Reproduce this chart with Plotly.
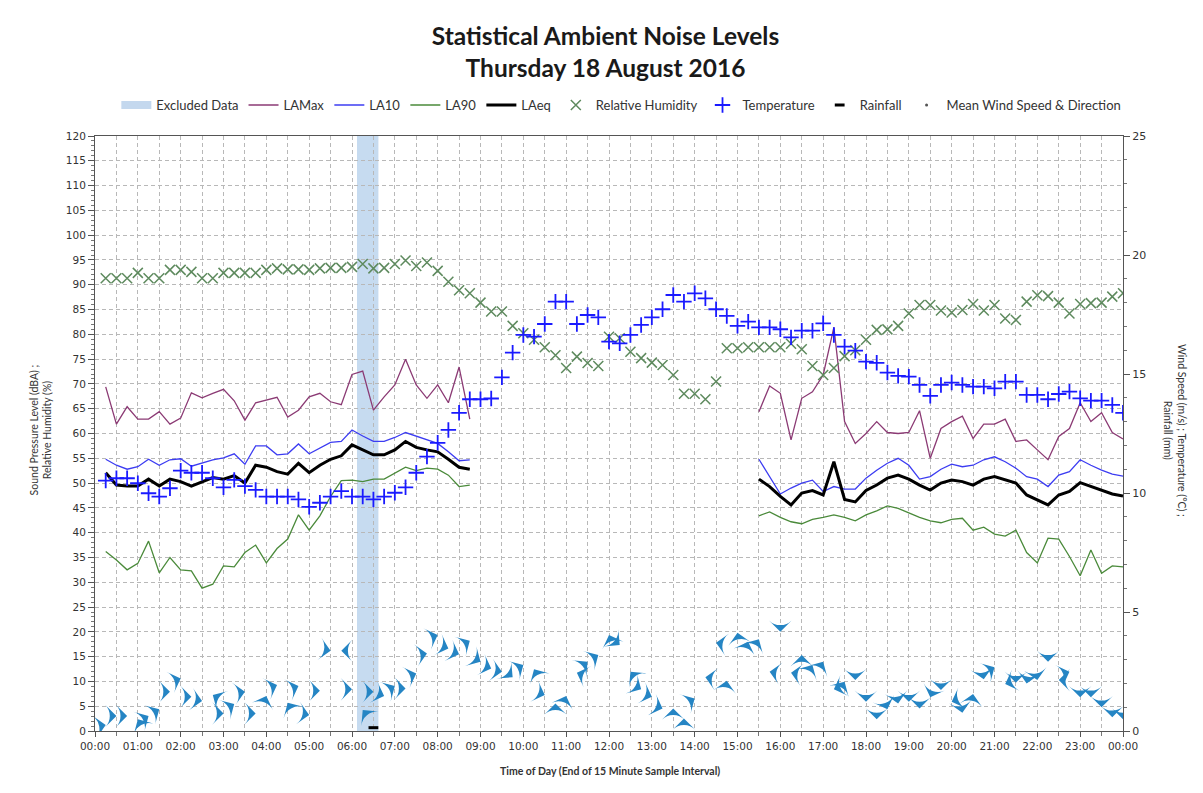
import plotly.graph_objects as go
from datetime import datetime, timedelta

# ---------------- data ----------------
start = datetime(2016, 8, 18, 0, 0)
times = [start + timedelta(minutes=15 * (i + 1)) for i in range(96)]  # end of 15-min intervals

GAP = [None] * 26

la_max = [69.4, 61.9, 65.4, 62.9, 62.9, 64.4, 61.9, 63.1, 68.2, 67.2, 68.1, 68.9, 66.6, 62.7, 66.2, 66.8,
          67.3, 63.3, 64.7, 67.4, 68.1, 66.4, 65.8, 71.9, 72.6, 64.7, 67.4, 69.8, 75.0, 69.8, 67.1, 69.8,
          66.2, 73.4, 62.9] + GAP + \
         [64.4, 69.6, 68.1, 58.7, 67.1, 68.4, 71.8, 81.4, 62.4, 58.0, 60.0, 62.4, 60.2, 60.0, 60.2, 64.6,
          55.0, 61.0, 62.4, 63.5, 59.0, 61.9, 61.9, 62.9, 58.4, 58.7, 56.7, 54.7, 59.4, 61.0, 66.2, 62.4,
          64.2, 60.2, 58.9]

la10 = [54.8, 53.6, 52.8, 53.3, 54.8, 53.6, 54.7, 54.9, 53.4, 54.1, 54.7, 55.1, 55.9, 53.8, 57.5, 57.5,
        55.7, 55.9, 57.9, 55.9, 57.0, 58.2, 58.4, 60.7, 59.5, 58.4, 58.4, 59.2, 60.2, 59.5, 58.7, 58.0,
        56.3, 54.5, 54.7] + GAP + \
       [54.8, 51.3, 47.8, 49.0, 50.0, 50.6, 48.3, 49.3, 48.8, 48.8, 51.0, 52.6, 54.0, 55.0, 53.6, 50.8,
        51.3, 52.8, 53.8, 53.3, 53.6, 54.7, 55.3, 54.3, 53.0, 51.3, 50.8, 49.3, 51.6, 52.3, 54.7, 53.6,
        52.6, 51.8, 51.4]

la90 = [36.2, 34.5, 32.5, 33.8, 38.3, 31.9, 35.0, 32.5, 32.3, 28.8, 29.6, 33.3, 33.1, 36.0, 37.5, 33.9,
        36.8, 38.7, 43.6, 40.5, 43.4, 47.3, 50.5, 50.6, 50.3, 50.8, 50.8, 52.0, 53.2, 52.5, 53.0, 52.8,
        51.6, 49.3, 49.6] + GAP + \
       [43.4, 44.2, 43.1, 42.2, 41.8, 42.7, 43.1, 43.6, 43.1, 42.4, 43.6, 44.4, 45.4, 44.9, 44.0, 43.1,
        42.4, 42.0, 42.7, 42.9, 40.5, 41.1, 39.7, 39.3, 40.5, 36.0, 33.9, 38.9, 38.7, 35.2, 31.3, 36.5,
        31.8, 33.3, 33.1]

laeq = [52.1, 49.6, 49.4, 49.4, 50.8, 49.4, 50.8, 50.3, 49.4, 50.3, 51.1, 50.8, 51.5, 50.0, 53.6, 53.2,
        52.3, 51.8, 54.0, 52.1, 53.6, 54.8, 55.5, 57.7, 56.7, 55.7, 55.7, 56.7, 58.4, 57.2, 56.7, 56.3,
        54.8, 53.2, 52.8] + GAP + \
       [50.8, 49.3, 47.3, 45.6, 48.0, 48.5, 47.6, 54.3, 46.7, 46.2, 48.5, 49.6, 51.0, 51.6, 50.8, 49.6,
        48.6, 50.0, 50.6, 50.3, 49.6, 50.8, 51.3, 50.6, 50.0, 47.6, 46.6, 45.6, 47.6, 48.3, 50.1, 49.3,
        48.5, 47.8, 47.4]

rel_humidity = [91.3, 91.3, 91.3, 92.4, 91.3, 91.3, 93.0, 93.0, 92.6, 91.3, 91.3, 92.4, 92.4, 92.4, 92.4, 93.0,
                93.3, 93.1, 93.1, 93.0, 93.3, 93.4, 93.4, 93.6, 94.2, 93.3, 93.4, 94.2, 94.9, 93.8, 94.5, 92.8,
                90.6, 88.9, 88.3, 86.4,
                84.6, 84.6, 81.7, 80.2, 78.9, 77.4, 75.8, 73.2, 75.5, 74.2, 73.6, 79.5, 79.2, 76.5, 75.2, 74.3,
                73.8, 71.8, 68.0, 68.0, 66.9, 70.5,
                77.2, 77.2, 77.4, 77.4, 77.4, 77.4, 78.1, 77.0, 73.6, 71.8, 73.2, 75.6, 76.8, 78.9, 80.9, 81.0,
                81.7, 84.2, 85.9, 85.9, 84.8, 84.4, 84.9, 86.1, 84.8, 85.9, 83.2, 82.9, 86.6, 87.9, 87.7, 86.4,
                84.2, 86.1, 86.3, 86.4, 87.6, 88.3]

temperature = [10.52, 10.62, 10.62, 10.41, 9.99, 9.85, 10.20, 10.94, 10.85, 10.85, 10.62, 10.24, 10.55, 10.29,
               10.13, 9.85, 9.85, 9.85, 9.73, 9.42, 9.59, 9.85, 10.08, 9.85, 9.85, 9.73, 9.85, 10.01, 10.24,
               10.85, 11.53, 12.11, 12.65,
               13.37, 13.94, 13.94, 13.97, 14.86, 15.90, 16.64, 16.57, 17.10, 18.04, 18.04, 17.10, 17.48, 17.38,
               16.36, 16.29, 16.64, 17.06, 17.38, 17.72, 18.32, 18.04, 18.39, 18.18, 17.72, 17.44, 17.02,
               17.20, 16.96, 16.96, 16.88, 16.54, 16.82, 16.82, 17.13, 16.64, 16.15, 15.98, 15.52, 15.47, 15.06,
               14.92, 14.89, 14.54, 14.08, 14.54, 14.64, 14.54, 14.47, 14.47, 14.40, 14.68, 14.68, 14.12, 14.12,
               13.94, 14.16, 14.26, 13.98, 13.88, 13.88, 13.70, 13.37]

rainfall = [None] * 25 + [0.14] + [None] * 70

wind_speed = [0.25, 0.63, 0.63, 0.49, 0.63, 0.91, 1.65, 2.21, 1.44, 1.26, 1.51, 0.74, 1.13, 1.65, 0.74, 1.47,
              1.93, 1.19, 1.89, 0.67, 1.69, 3.37, 3.37, 1.75, 0.88, 1.65, 1.47, 1.89, 1.79, 2.42, 3.26, 4.03,
              3.47, 3.22, 3.79, 2.91, 2.63,
              2.49, 2.26, 2.77, 2.59, 1.51, 1.16, 1.47, 2.45, 2.91, 3.19, 4.03, 3.61, 2.49, 1.75, 1.44, 0.95,
              0.95, 0.53, 1.37, 2.26, 3.71, 2.11, 4.13, 3.75, 3.85, 2.49, 4.17, 2.45, 3.19, 2.77, 2.91, 1.75,
              2.07, 2.14, 1.23, 0.49,
              0.91, 1.16, 1.23, 0.95, 1.42, 1.72, 1.23, 0.77, 1.55, 2.17, 2.68, 1.97, 2.03, 2.0, 2.14, 2.91,
              2.14, 2.49, 1.42, 1.42, 1.0, 0.58, 0.49]

wind_dir = [80, 90, 90, 330, 60, 60, 90, 70, 90, 100, 300, 90, 60, 80, 90, 20, 70, 330, 70, 100, 90, 100, 270,
            90, 320, 90, 110, 60, 90, 70, 80, 70, 110, 110, 60, 120, 110,
            100, 130, 60, 330, 110, 0, 20, 290, 50, 60, 340, 130, 320, 120, 110, 110, 0, 0, 60, 280, 280, 10,
            350, 20, 30, 280, 180, 280, 0, 30, 30, 250, 30, 180, 180, 180,
            160, 170, 180, 180, 200, 180, 250, 170, 10, 170, 60, 250, 180, 190, 170, 180, 270, 70, 180, 180,
            180, 180, 180]

excluded_start = datetime(2016, 8, 18, 6, 7)
excluded_end = datetime(2016, 8, 18, 6, 37)

# ---------------- figure ----------------
TXT = "#333333"
fig = go.Figure()

# legend-only entry for the excluded data band
fig.add_trace(go.Scatter(x=[None], y=[None], mode="lines", name="Excluded Data",
                         line=dict(color="#C4D8EE", width=8)))
fig.add_trace(go.Scatter(x=times, y=la_max, mode="lines", name="LAMax",
                         line=dict(color="#8B3A74", width=1.3)))
fig.add_trace(go.Scatter(x=times, y=la10, mode="lines", name="LA10",
                         line=dict(color="#3C3CF2", width=1.3)))
fig.add_trace(go.Scatter(x=times, y=la90, mode="lines", name="LA90",
                         line=dict(color="#4A8A3A", width=1.3)))
fig.add_trace(go.Scatter(x=times, y=laeq, mode="lines", name="LAeq",
                         line=dict(color="#000000", width=3)))
fig.add_trace(go.Scatter(x=times, y=rel_humidity, mode="markers", name="Relative Humidity",
                         marker=dict(symbol="x-thin-open", size=10, color="#5E8A5E",
                                     line=dict(color="#5E8A5E", width=1.5))))
fig.add_trace(go.Scatter(x=times, y=temperature, mode="markers", name="Temperature", yaxis="y2",
                         marker=dict(symbol="cross-thin-open", size=11, color="#1A1AFF",
                                     line=dict(color="#1A1AFF", width=1.8))))
fig.add_trace(go.Scatter(x=times, y=rainfall, mode="markers", name="Rainfall", yaxis="y2",
                         marker=dict(symbol="line-ew-open", size=7, color="#000000",
                                     line=dict(color="#000000", width=3))))
fig.add_trace(go.Scatter(x=times, y=wind_speed, mode="markers", name="Mean Wind Speed & Direction",
                         yaxis="y2", showlegend=False,
                         marker=dict(symbol="arrow-wide", size=16, angle=wind_dir,
                                     color="#2585C4", line=dict(width=0))))
fig.add_trace(go.Scatter(x=[None], y=[None], mode="markers", name="Mean Wind Speed & Direction",
                         marker=dict(symbol="circle", size=3, color="#555555")))

# excluded data band
fig.add_shape(type="rect", xref="x", yref="paper", x0=excluded_start, x1=excluded_end, y0=0, y1=1,
              fillcolor="rgba(160,195,230,0.6)", line=dict(width=0), layer="below")

grid = dict(showgrid=True, gridcolor="#B8B8B8", gridwidth=1, griddash="4px,3px")
tickfont = dict(family="DejaVu Sans", size=10.5, color=TXT)

fig.update_layout(
    width=1195, height=785,
    margin=dict(l=87, r=80, t=128, b=62),
    paper_bgcolor="white", plot_bgcolor="white",
    font=dict(family="DejaVu Sans", color=TXT),
    title=dict(text="<b>Statistical Ambient Noise Levels<br>Thursday 18 August 2016</b>",
               x=0.5, xanchor="center", y=0.953, yanchor="top",
               font=dict(family="Lato", size=24.5, color="#1a1a1a")),
    legend=dict(orientation="h", x=0.512, xanchor="center", y=1.052, yanchor="middle",
                font=dict(family="Lato", size=13, color=TXT), itemwidth=30,
                bgcolor="rgba(0,0,0,0)", traceorder="normal"),
    xaxis=dict(type="date", range=[datetime(2016, 8, 18), datetime(2016, 8, 19)],
               dtick=3600000, tickformat="%H:%M", tickfont=tickfont,
               ticks="outside", ticklen=5, tickcolor="#555",
               showline=True, linecolor="#555", linewidth=1, mirror=True,
               minor=dict(dtick=1800000, ticks="outside", ticklen=4, tickcolor="#777",
                          showgrid=True, gridcolor="#B8B8B8", griddash="4px,3px"),
               **grid),
    yaxis=dict(range=[0, 120], dtick=5, tickfont=tickfont,
               ticks="outside", ticklen=6, tickcolor="#555",
               showline=True, linecolor="#555", linewidth=1,
               minor=dict(dtick=1, ticks="outside", ticklen=3, tickcolor="#777"),
               zeroline=False, **grid),
    yaxis2=dict(range=[0, 25], dtick=5, overlaying="y", side="right",
                tickfont=dict(family="DejaVu Sans", size=11, color=TXT),
                ticks="outside", ticklen=6, tickcolor="#555",
                showline=True, linecolor="#555", linewidth=1,
                minor=dict(dtick=1, ticks="outside", ticklen=3, tickcolor="#777"),
                showgrid=False, zeroline=False),
    annotations=[
        dict(text="Sound Pressure Level (dBA) ;<br>Relative Humidity (%)", xref="paper", yref="paper",
             x=-0.053, y=0.506, textangle=-90, showarrow=False, xanchor="center", yanchor="middle",
             font=dict(family="Lato", size=10.5, color=TXT)),
        dict(text="Wind Speed (m/s) ; Temperature (°C) ;<br>Rainfall (mm)", xref="paper", yref="paper",
             x=1.0506, y=0.506, textangle=90, showarrow=False, xanchor="center", yanchor="middle",
             font=dict(family="Lato", size=10.5, color=TXT)),
        dict(text="<b>Time of Day (End of 15 Minute Sample Interval)</b>", xref="paper", yref="paper",
             x=0.501, y=-0.067, showarrow=False, xanchor="center", yanchor="middle",
             font=dict(family="Lato", size=10.5, color=TXT)),
    ],
)

fig.write_html("out.html")
